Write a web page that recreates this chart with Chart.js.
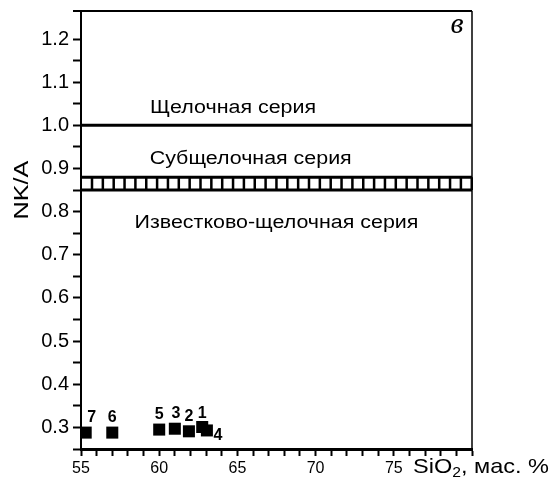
<!DOCTYPE html>
<html><head><meta charset="utf-8">
<script src="https://cdn.jsdelivr.net/npm/chart.js@4"></script>
<style>html,body{margin:0;padding:0;background:#fff}#wrap{width:556px;height:488px}</style>
</head><body><div id="wrap"><canvas id="c" width="556" height="488"></canvas></div>
<script>
// ---- data ----
const sampleLabels = ['1', '2', '3', '4', '5', '6', '7'];
const sio2 = [62.75, 61.9, 61.0, 63.05, 60.0, 57.0, 55.3];
const nka = [0.301, 0.291, 0.297, 0.293, 0.295, 0.288, 0.288];

const seriesBoundaries = [1.0, 0.88, 0.85];
const hatchBand = [0.85, 0.88];

const zoneNames = ['Щелочная серия', 'Субщелочная серия', 'Известково-щелочная серия'];
const zoneX = [64.72, 65.85, 67.5];
const zoneY = [1.041, 0.921, 0.773];

const xRange = [55, 80];
const yRange = [0.25, 1.265];
const xTickLabels = ['55', '60', '65', '70', '75'];
const yTickLabels = ['0.3', '0.4', '0.5', '0.6', '0.7', '0.8', '0.9', '1.0', '1.1', '1.2'];
const xTitle = ['SiO', '2', ', мас. %'];
const yTitle = 'NK/A';
const panelLetter = 'в';

// ---- tick positions (every 1 on x, every 0.05 on y) ----
const xTickValues = [];
for (let v = 55; v <= 80; v++) xTickValues.push(v);
const yTickValues = [];
for (let k = 25; k <= 120; k += 5) yTickValues.push(k / 100);

const FONT = "'Liberation Sans', Arial, sans-serif";

function stretchText(ctx, text, x, y, sx, align) {
  const w = ctx.measureText(text).width * sx;
  let x0 = x;
  if (align === 'center') x0 = x - w / 2;
  else if (align === 'right') x0 = x - w;
  ctx.save();
  ctx.translate(x0, y);
  ctx.scale(sx, 1);
  ctx.textAlign = 'left';
  ctx.fillText(text, 0, 0);
  ctx.restore();
  return w;
}

const labelOffsets = { '1': [0, -13], '2': [0, -15], '3': [1, -15], '4': [11, 5], '5': [0, -15], '6': [0, -15], '7': [6, -15] };

const decorPlugin = {
  id: 'decor',
  beforeDatasetsDraw(chart) {
    const { ctx, chartArea: a, scales: { x, y } } = chart;
    const yt = y.getPixelForValue(hatchBand[1]);
    const yb = y.getPixelForValue(hatchBand[0]);
    ctx.save();
    ctx.strokeStyle = '#000';
    ctx.lineWidth = 2.5;
    ctx.beginPath();
    for (let px = a.left + 11; px <= a.right + 0.5; px += 10.85) {
      ctx.moveTo(px, yt);
      ctx.lineTo(px, yb);
    }
    ctx.stroke();
    ctx.restore();
  },
  afterDatasetsDraw(chart) {
    const { ctx, chartArea: a, scales: { x, y } } = chart;
    ctx.save();
    ctx.strokeStyle = '#000';
    ctx.lineWidth = 2;
    ctx.beginPath();
    ctx.moveTo(a.left - 8, a.top);
    ctx.lineTo(a.right, a.top);
    ctx.stroke();
    ctx.lineWidth = 1.5;
    ctx.beginPath();
    ctx.moveTo(a.right, a.top);
    ctx.lineTo(a.right, a.bottom);
    ctx.stroke();

    ctx.fillStyle = '#000';
    ctx.font = '18px ' + FONT;
    ctx.textBaseline = 'middle';
    zoneNames.forEach((t, i) => {
      stretchText(ctx, t, x.getPixelForValue(zoneX[i]), y.getPixelForValue(zoneY[i]), 1.19, 'center');
    });

    ctx.font = 'bold 16px ' + FONT;
    ctx.textBaseline = 'middle';
    ctx.textAlign = 'center';
    sampleLabels.forEach((t, i) => {
      const o = labelOffsets[t] || [0, -15];
      ctx.fillText(t, x.getPixelForValue(sio2[i]) + o[0], y.getPixelForValue(nka[i]) + o[1]);
    });

    ctx.font = "italic 30px 'Liberation Serif', serif";
    ctx.textAlign = 'center';
    ctx.textBaseline = 'middle';
    ctx.fillText(panelLetter, a.right - 15, a.top + 14);

    ctx.save();
    ctx.translate(22, 190);
    ctx.rotate(-Math.PI / 2);
    ctx.font = '21px ' + FONT;
    ctx.textBaseline = 'middle';
    stretchText(ctx, yTitle, 0, 0, 1.2, 'center');
    ctx.restore();

    ctx.textBaseline = 'alphabetic';
    let cx = a.right - 59;
    const by = a.bottom + 24;
    ctx.font = '21px ' + FONT;
    cx += stretchText(ctx, xTitle[0], cx, by, 1.12, 'left');
    ctx.font = '14px ' + FONT;
    cx += stretchText(ctx, xTitle[1], cx, by + 4, 1.12, 'left');
    ctx.font = '21px ' + FONT;
    stretchText(ctx, xTitle[2], cx, by, 1.12, 'left');
    ctx.restore();
  }
};

const boundaryDatasets = seriesBoundaries.map(v => ({
  data: [{ x: xRange[0], y: v }, { x: xRange[1], y: v }],
  showLine: true,
  borderColor: '#000',
  borderWidth: 3,
  pointRadius: 0,
  fill: false
}));

new Chart(document.getElementById('c'), {
  type: 'scatter',
  data: {
    datasets: [
      ...boundaryDatasets,
      {
        data: sio2.map((v, i) => ({ x: v, y: nka[i] })),
        pointStyle: 'rect',
        pointRadius: 8.5,
        backgroundColor: '#000',
        borderColor: '#000',
        borderWidth: 0
      }
    ]
  },
  options: {
    responsive: false,
    animation: false,
    events: [],
    layout: { padding: { left: 0, top: 11, right: 84, bottom: 0 } },
    plugins: { legend: { display: false }, tooltip: { enabled: false } },
    scales: {
      x: {
        type: 'linear',
        min: xRange[0],
        max: xRange[1],
        afterBuildTicks: s => { s.ticks = xTickValues.map(v => ({ value: v })); },
        afterFit: s => { s.height = 39; s.paddingLeft = 0; s.paddingRight = 0; },
        grid: { drawOnChartArea: false, drawTicks: true, tickLength: 7, tickWidth: 2, color: '#000' },
        border: { display: true, color: '#000', width: 3 },
        ticks: {
          autoSkip: false, maxRotation: 0, padding: 3, color: '#000',
          font: { family: FONT, size: 16 },
          callback: v => { const s = String(v); return xTickLabels.includes(s) ? s : ''; }
        }
      },
      y: {
        type: 'linear',
        min: yRange[0],
        max: yRange[1],
        afterBuildTicks: s => { s.ticks = yTickValues.map(v => ({ value: v })); },
        afterFit: s => { s.width = 81; s.paddingTop = 0; s.paddingBottom = 0; },
        grid: { drawOnChartArea: false, drawTicks: true, tickLength: 8, tickWidth: 2, color: '#000' },
        border: { display: true, color: '#000', width: 2 },
        ticks: {
          autoSkip: false, padding: 4, color: '#000',
          font: { family: FONT, size: 20 },
          callback: v => { const s = (Math.round(v * 100) / 100).toFixed(1); return (Math.abs(v * 10 - Math.round(v * 10)) < 1e-6 && yTickLabels.includes(s)) ? s : ''; }
        }
      }
    }
  },
  plugins: [decorPlugin]
});
</script>
</body></html>
